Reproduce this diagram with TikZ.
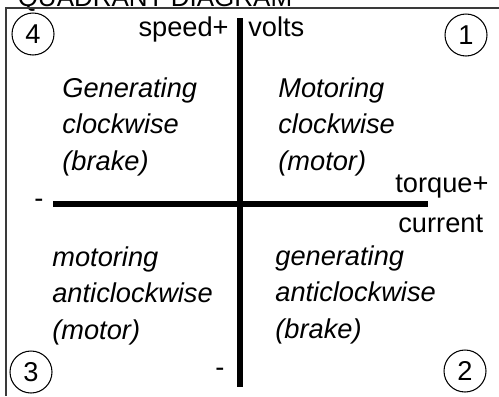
\documentclass[tikz,border=0pt]{standalone}
\usepackage{fontspec}
\setmainfont{Liberation Sans}
\usepackage{tikz}
\usetikzlibrary{positioning}
\definecolor{qdFrame}{HTML}{3A3A3A}
\definecolor{qdAxis}{HTML}{000000}
\tikzset{
  qdlabel/.style={font=\fontsize{15.5}{21}\selectfont, inner sep=0pt},
  quadtext/.style={qdlabel, font=\fontsize{15.5}{21}\selectfont\itshape, align=left, anchor=north west},
  numcircle/.style={qdlabel, draw, circle, line width=0.6pt, minimum size=0.84cm},
  axisline/.style={line width=3.4pt, qdAxis},
  frameline/.style={line width=0.7pt, qdFrame},
  title/.style={font=\fontsize{14.8}{18}\selectfont, inner sep=0pt, anchor=base}
}
\begin{document}
\begin{tikzpicture}[x=0.02cm, y=-0.02cm]
  \useasboundingbox (0,0) rectangle (499,396);
  \node[title] (title) at (155,6) {QUADRANT DIAGRAM};
  % frame
  \coordinate (fTL) at (6,8);
  \coordinate (fTR) at (499,8);
  \coordinate (fBL) at (6,396);
  \draw[frameline] (fTR) -- (fTL) -- (fBL);
  % axes
  \coordinate (vTop) at (240,18);
  \coordinate (vBot) at (240,387);
  \coordinate (hLeft) at (53,204);
  \coordinate (hRight) at (428,204);
  \draw[axisline] (vTop) -- (vBot);
  \draw[axisline] (hLeft) -- (hRight);
  % axis labels
  \node[qdlabel, anchor=base east] (speed) at (229,36) {speed+};
  \node[qdlabel, anchor=base west] (volts) at (248,36) {volts};
  \node[qdlabel, anchor=base west] (torque) at (395,192) {torque+};
  \node[qdlabel, anchor=base west] (current) at (398,232) {current};
  \node[qdlabel] (minusH) at (39,203) {-};
  \node[qdlabel] (minusV) at (220,372) {-};
  % quadrants
  \node[quadtext] (qFour) at (62,77) {Generating\\clockwise\\(brake)};
  \node[quadtext] (qOne) at (278,77) {Motoring\\clockwise\\(motor)};
  \node[quadtext] (qThree) at (52,246) {motoring\\anticlockwise\\(motor)};
  \node[quadtext] (qTwo) at (275,245) {generating\\anticlockwise\\(brake)};
  \node[numcircle] (nFour) at (33,34) {4};
  \node[numcircle] (nOne) at (466,35) {1};
  \node[numcircle] (nThree) at (31,372) {3};
  \node[numcircle] (nTwo) at (465,371) {2};
\end{tikzpicture}
\end{document}
